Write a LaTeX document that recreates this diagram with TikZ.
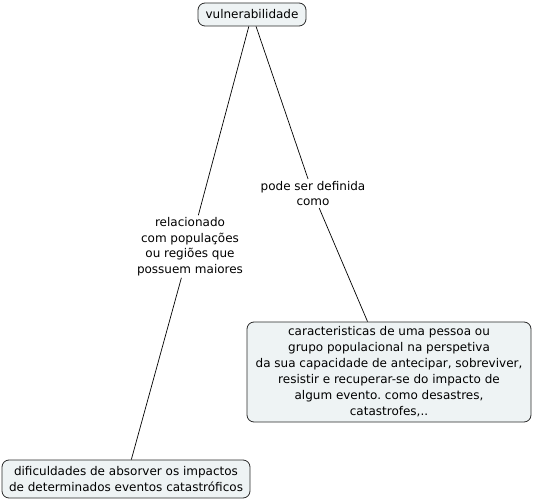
\documentclass[tikz,border=0pt]{standalone}
\usepackage{fontspec}
\setmainfont{DejaVu Sans}
\frenchspacing
\definecolor{boxfill}{HTML}{EEF3F4}
\definecolor{boxline}{HTML}{2A2A2A}
\begin{document}
\begin{tikzpicture}[x=1pt,y=-1pt,
  concept/.style={draw=boxline, fill=boxfill, rounded corners=7pt, line width=0.8pt, align=center, inner sep=0pt, font=\fontsize{12}{16}\selectfont},
  linklabel/.style={align=center, inner sep=2pt, font=\fontsize{12}{15.5}\selectfont},
  conn/.style={draw=black, line width=0.7pt}]
\useasboundingbox (0,0) rectangle (535,502);
\node[concept, minimum width=108pt, minimum height=23pt] (v) at (252,14.5) {vulnerabilidade};
\node[concept, minimum width=284pt, minimum height=100pt] (c) at (389,372) {caracteristicas de uma pessoa ou\\grupo populacional na perspetiva\\da sua capacidade de antecipar, sobreviver,\\resistir e recuperar-se do impacto de\\algum evento. como desastres,\\catastrofes,..};
\node[concept, minimum width=248pt, minimum height=38pt] (d) at (126,479) {dificuldades de absorver os impactos\\de determinados eventos catastróficos};
\node[linklabel] (l1) at (190,246.5) {relacionado\\com populações\\ou regiões que\\possuem maiores};
\node[linklabel] (l2) at (313,193.5) {pode ser definida\\como};
\draw[conn] (v) -- (l1) -- (d);
\draw[conn] (v) -- (l2) -- (c);
\end{tikzpicture}
\end{document}
